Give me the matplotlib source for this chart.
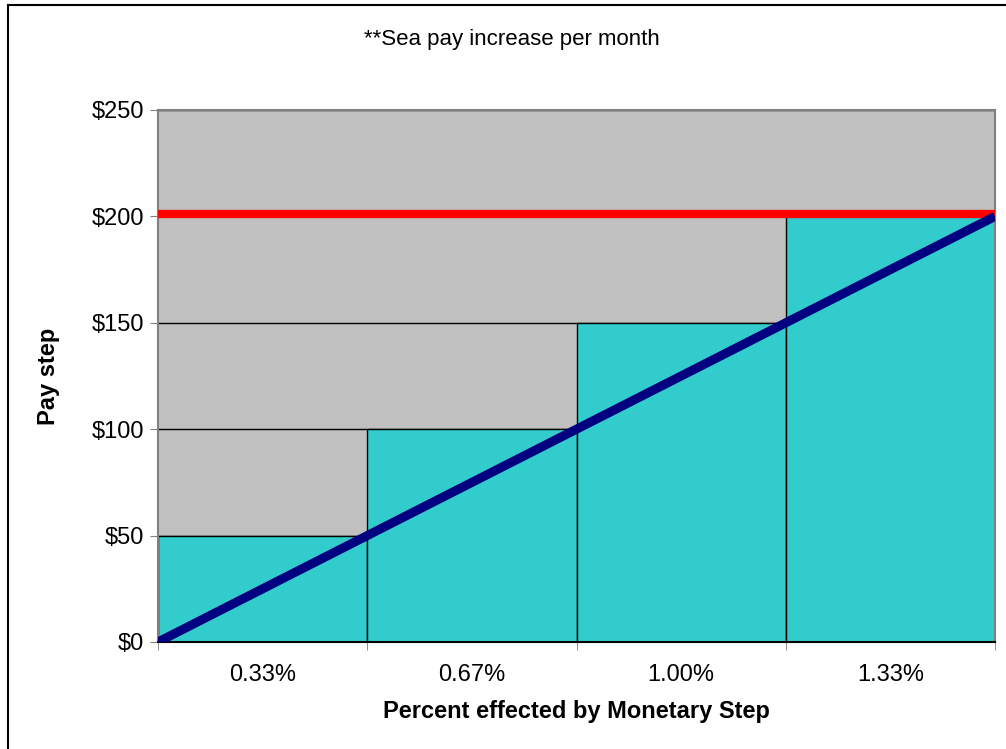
import numpy as np
import matplotlib
matplotlib.use("Agg")
import matplotlib.pyplot as plt
from matplotlib.lines import Line2D

# chart data
categories = ["0.33%", "0.67%", "1.00%", "1.33%"]
pay_steps = [50, 100, 150, 200]
trend_x = [0, 1, 2, 3, 4]
trend_y = [0, 50, 100, 150, 200]
sea_pay_cap = 201
y_ticks = [0, 50, 100, 150, 200, 250]

plt.rcParams["font.family"] = ["Liberation Sans", "DejaVu Sans"]

fig = plt.figure(figsize=(10.06, 7.49), dpi=100)
ax = fig.add_axes([158 / 1006, 107 / 749, 837 / 1006, 532 / 749])
ax.set_facecolor("#C0C0C0")

# gridlines behind bars
for v in y_ticks[1:]:
    ax.axhline(v, color="black", linewidth=1, zorder=1)

x = np.arange(len(categories)) + 0.5
ax.bar(x, pay_steps, width=1.0, color="#33CCCC", edgecolor="black",
       linewidth=1, zorder=2)

ax.plot(trend_x, trend_y, color="#000080", linewidth=6.5,
        solid_capstyle="butt", zorder=4)
ax.plot([0, 4], [sea_pay_cap, sea_pay_cap], color="#FF0000",
        linewidth=6, solid_capstyle="butt", zorder=3)

ax.set_xlim(0, 4)
ax.set_ylim(0, 250)

ax.set_yticks(y_ticks)
ax.set_yticklabels([f"${v}" for v in y_ticks], fontsize=17)
ax.set_xticks(x)
ax.set_xticklabels(categories, fontsize=17)
ax.set_xticks(trend_x, minor=True)
ax.tick_params(axis="x", which="major", length=0, pad=16)
ax.tick_params(axis="x", which="minor", length=6, color="#808080", direction="out")
ax.tick_params(axis="y", length=6, color="#808080", direction="out", pad=4)

for side in ["top", "right", "left"]:
    ax.spines[side].set_color("#808080")
    ax.spines[side].set_linewidth(1.5)
ax.spines["bottom"].set_color("black")
ax.spines["bottom"].set_linewidth(1.5)

ax.set_xlabel("Percent effected by Monetary Step", fontsize=17,
              fontweight="bold", labelpad=10)
ax.set_ylabel("Pay step", fontsize=17, fontweight="bold", labelpad=23)

fig.text(512 / 1006, 1 - 40 / 749, "**Sea pay increase per month",
         ha="center", va="center", fontsize=16)

# chart frame
fig.add_artist(Line2D([8 / 1006, 8 / 1006], [0, 1 - 5 / 749],
                      transform=fig.transFigure, color="black", linewidth=1.5))
fig.add_artist(Line2D([8 / 1006, 1], [1 - 5 / 749, 1 - 5 / 749],
                      transform=fig.transFigure, color="black", linewidth=1.5))

fig.savefig("out.png", dpi=100)
